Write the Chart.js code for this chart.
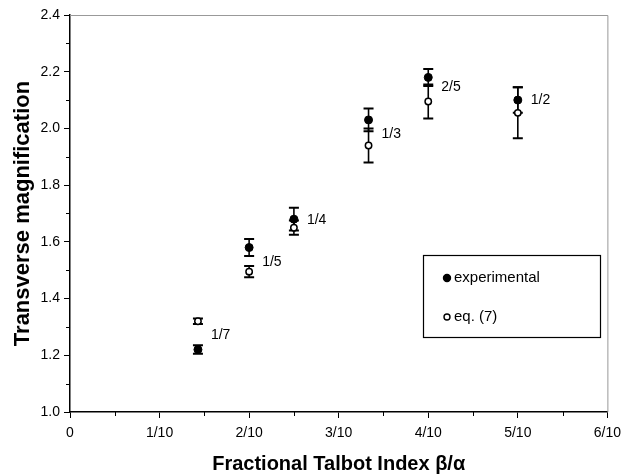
<!DOCTYPE html>
<html>
<head>
<meta charset="utf-8">
<script src="https://cdn.jsdelivr.net/npm/chart.js@4.4.0/dist/chart.umd.min.js"></script>
<style>
    html, body { margin: 0; padding: 0; background: #fff; }
    #wrap { width: 628px; height: 476px; }
</style>
</head>
<body>
<div id="wrap"><canvas id="talbotChart"></canvas></div>
<script>
// Données
const fractionLabels = ['1/7', '1/5', '1/4', '1/3', '2/5', '1/2'];
const fractionValues = [1/7, 1/5, 1/4, 1/3, 2/5, 1/2];
const expValues = [1.22, 1.58, 1.68, 2.03, 2.18, 2.10];
const expErrors = [0.015, 0.03, 0.04, 0.04, 0.03, 0.045];
const eqValues = [1.32, 1.495, 1.65, 1.94, 2.095, 2.055];
const eqErrors = [0.01, 0.02, 0.025, 0.06, 0.06, 0.09];
const labelYValues = [1.27, 1.53, 1.675, 1.98, 2.145, 2.10];
const xTickLabels = ['0', '1/10', '2/10', '3/10', '4/10', '5/10', '6/10'];
const seriesNames = ['experimental', 'eq. (7)'];

const FONT = "'Liberation Sans', Arial, Helvetica, sans-serif";

// Barres d'erreur (sous les points)
const errorBarsPlugin = {
    id: 'errorBars',
    beforeDatasetsDraw(chart) {
        const ctx = chart.ctx;
        const xs = chart.scales.x;
        const ys = chart.scales.y;
        ctx.save();
        ctx.strokeStyle = '#000';
        chart.data.datasets.forEach(ds => {
            ds.data.forEach((p, i) => {
                const e = ds.errors[i];
                const px = xs.getPixelForValue(p.x);
                const top = ys.getPixelForValue(p.y + e);
                const bot = ys.getPixelForValue(p.y - e);
                ctx.lineWidth = 1.6;
                ctx.beginPath();
                ctx.moveTo(px, top);
                ctx.lineTo(px, bot);
                ctx.stroke();
                ctx.lineWidth = 2;
                ctx.beginPath();
                ctx.moveTo(px - 5, top);
                ctx.lineTo(px + 5, top);
                ctx.moveTo(px - 5, bot);
                ctx.lineTo(px + 5, bot);
                ctx.stroke();
            });
        });
        ctx.restore();
    }
};

// Étiquettes des fractions à côté des points
const fractionTextPlugin = {
    id: 'fractionText',
    afterDatasetsDraw(chart) {
        const ctx = chart.ctx;
        const xs = chart.scales.x;
        const ys = chart.scales.y;
        ctx.save();
        ctx.fillStyle = '#000';
        ctx.font = '14px ' + FONT;
        ctx.textAlign = 'left';
        ctx.textBaseline = 'middle';
        fractionLabels.forEach((t, i) => {
            ctx.fillText(t, xs.getPixelForValue(fractionValues[i]) + 13, ys.getPixelForValue(labelYValues[i]));
        });
        ctx.restore();
    }
};

// Cadre gris, petites graduations et légende
const framePlugin = {
    id: 'frame',
    afterDraw(chart) {
        const ctx = chart.ctx;
        const a = chart.chartArea;
        const xs = chart.scales.x;
        const ys = chart.scales.y;
        ctx.save();
        ctx.strokeStyle = '#999';
        ctx.lineWidth = 1;
        ctx.beginPath();
        ctx.moveTo(a.left, a.top + 0.5);
        ctx.lineTo(a.right + 0.5, a.top + 0.5);
        ctx.lineTo(a.right + 0.5, a.bottom);
        ctx.stroke();

        // graduations secondaires
        ctx.strokeStyle = '#000';
        ctx.beginPath();
        for (let k = 1; k < 12; k += 2) {
            const px = Math.round(xs.getPixelForValue(k * 0.05)) + 0.5;
            ctx.moveTo(px, a.bottom);
            ctx.lineTo(px, a.bottom + 4);
        }
        for (let k = 1; k < 14; k += 2) {
            const py = Math.round(ys.getPixelForValue(1 + k * 0.1)) + 0.5;
            ctx.moveTo(a.left, py);
            ctx.lineTo(a.left - 4, py);
        }
        ctx.stroke();

        // légende
        const bx = 423, by = 255, bw = 177, bh = 82;
        ctx.strokeStyle = '#000';
        ctx.lineWidth = 1.2;
        ctx.strokeRect(bx + 0.5, by + 0.5, bw, bh);
        ctx.font = '15px ' + FONT;
        ctx.textBaseline = 'middle';
        ctx.fillStyle = '#000';
        const rows = [by + 23, by + 62];
        chart.data.datasets.forEach((ds, i) => {
            ctx.beginPath();
            ctx.arc(bx + 24, rows[i], i === 0 ? 3.5 : 3, 0, Math.PI * 2);
            ctx.fillStyle = ds.backgroundColor;
            ctx.fill();
            ctx.lineWidth = 1.4;
            ctx.strokeStyle = '#000';
            ctx.stroke();
            ctx.fillStyle = '#000';
            ctx.fillText(seriesNames[i], bx + 31, rows[i]);
        });
        ctx.restore();
    }
};

const ctx = document.getElementById('talbotChart').getContext('2d');
const talbotChart = new Chart(ctx, {
    type: 'scatter',
    data: {
        datasets: [
            {
                label: seriesNames[0],
                data: fractionValues.map((x, i) => ({ x: x, y: expValues[i] })),
                errors: expErrors,
                pointRadius: 4,
                backgroundColor: '#000',
                borderColor: '#000',
                borderWidth: 1
            },
            {
                label: seriesNames[1],
                data: fractionValues.map((x, i) => ({ x: x, y: eqValues[i] })),
                errors: eqErrors,
                pointRadius: 3.2,
                backgroundColor: '#fff',
                borderColor: '#000',
                borderWidth: 1.5
            }
        ]
    },
    options: {
        responsive: true,
        maintainAspectRatio: false,
        animation: false,
        layout: {
            padding: { top: 15, right: 19, bottom: 0, left: 0 }
        },
        plugins: {
            legend: { display: false },
            tooltip: { enabled: false }
        },
        scales: {
            x: {
                type: 'linear',
                min: 0,
                max: 0.6,
                afterFit: s => { s.height = 64; },
                ticks: {
                    stepSize: 0.1,
                    color: '#000',
                    padding: 7,
                    font: { family: FONT, size: 14 },
                    callback: (v, i) => xTickLabels[i]
                },
                grid: { drawOnChartArea: false, tickLength: 6, color: '#000' },
                border: { color: '#000', width: 1.5 },
                title: {
                    display: true,
                    text: 'Fractional Talbot Index β/α',
                    color: '#000',
                    font: { family: FONT, size: 20, weight: 'bold' },
                    padding: { top: 0, bottom: 0 }
                }
            },
            y: {
                min: 1.0,
                max: 2.4,
                afterFit: s => { s.width = 70; },
                ticks: {
                    stepSize: 0.2,
                    color: '#000',
                    padding: 4,
                    font: { family: FONT, size: 14 },
                    callback: v => v.toFixed(1)
                },
                grid: { drawOnChartArea: false, tickLength: 6, color: '#000' },
                border: { color: '#000', width: 1.5 },
                title: {
                    display: true,
                    text: 'Transverse magnification',
                    color: '#000',
                    font: { family: FONT, size: 22, weight: 'bold' },
                    padding: { top: 10, bottom: 0 }
                }
            }
        }
    },
    plugins: [errorBarsPlugin, fractionTextPlugin, framePlugin]
});
</script>
</body>
</html>
